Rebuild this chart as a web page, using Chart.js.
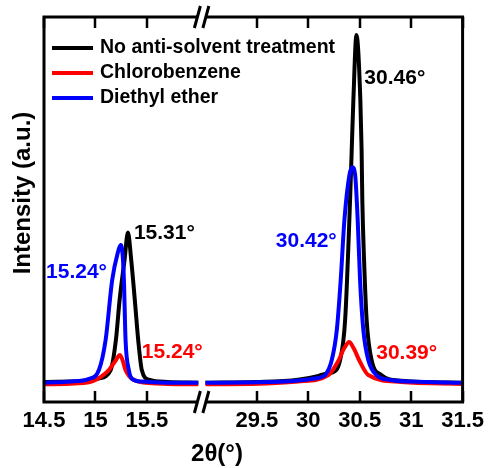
<!DOCTYPE html>
<html>
<head>
<meta charset="utf-8">
<script src="https://cdn.jsdelivr.net/npm/chart.js@4.4.1/dist/chart.umd.min.js"></script>
<style>
  html, body { margin: 0; padding: 0; background: #fff; }
  #wrap { width: 490px; height: 468px; position: relative; }
</style>
</head>
<body>
<div id="wrap"><canvas id="xrdChart"></canvas></div>
<script>
// 2theta values (deg) and normalised intensity
var noTreatX = [14.5, 14.9, 15.03, 15.148, 15.199, 15.235, 15.283, 15.316, 15.348, 15.383, 15.416, 15.451, 15.52, 15.7, 16.0,
                29.0, 29.5, 29.9, 30.1, 30.16, 30.225, 30.309, 30.358, 30.406, 30.422, 30.438, 30.468, 30.506, 30.518, 30.525, 30.542, 30.567, 30.615, 30.709, 30.9, 31.5];
var noTreatY = [0.052, 0.055, 0.061, 0.083, 0.161, 0.265, 0.369, 0.44, 0.369, 0.265, 0.161, 0.083, 0.058, 0.052, 0.05,
                0.05, 0.052, 0.058, 0.068, 0.073, 0.076, 0.109, 0.213, 0.525, 0.655, 0.784, 0.953, 0.784, 0.655, 0.525, 0.369, 0.213, 0.109, 0.07, 0.055, 0.05];

var chloroX = [14.5, 14.8, 14.98, 15.13, 15.19, 15.238, 15.265, 15.293, 15.42, 15.7, 16.0,
               29.0, 29.6, 29.9, 30.196, 30.286, 30.35, 30.397, 30.44, 30.503, 30.583, 30.9, 31.5];
var chloroY = [0.046, 0.048, 0.055, 0.083, 0.105, 0.122, 0.108, 0.083, 0.053, 0.047, 0.046,
               0.046, 0.048, 0.053, 0.07, 0.104, 0.14, 0.156, 0.14, 0.104, 0.07, 0.052, 0.047];

var etherX = [14.5, 14.8, 14.937, 15.034, 15.099, 15.163, 15.215, 15.248, 15.265, 15.277, 15.293, 15.325, 15.357, 15.45, 15.7, 16.0,
              29.0, 29.5, 29.9, 30.1, 30.164, 30.228, 30.277, 30.315, 30.351, 30.4, 30.428, 30.455, 30.48, 30.503, 30.535, 30.583, 30.663, 30.8, 31.0, 31.5];
var etherY = [0.05, 0.054, 0.06, 0.083, 0.161, 0.317, 0.385, 0.408, 0.38, 0.317, 0.161, 0.083, 0.06, 0.053, 0.05, 0.05,
              0.05, 0.051, 0.056, 0.063, 0.07, 0.109, 0.187, 0.317, 0.473, 0.59, 0.61, 0.59, 0.473, 0.317, 0.187, 0.109, 0.07, 0.057, 0.053, 0.05];

var seriesNames = ['No anti-solvent treatment', 'Chlorobenzene', 'Diethyl ether'];
var leftTicks = [14.5, 15, 15.5];
var rightTicks = [29.5, 30, 30.5, 31, 31.5];

// peak labels: text, 2theta, intensity (left edge / vertical middle of text)
var peakLabels = [
  ['30.46°', 30.545, 0.842, 0],
  ['15.31°', 15.374, 0.439, 0],
  ['15.24°', 14.52, 0.338, 2],
  ['15.24°', 15.451, 0.13, 1],
  ['30.42°', 29.684, 0.418, 2],
  ['30.39°', 30.66, 0.127, 1]
];

var colors = ['#000000', '#ff0000', '#0000ff'];
var FONT = '"Liberation Sans", Arial, Helvetica, sans-serif';

// broken axis: 14.5-16 then 29-31.5, joined with a small gap
var GAP = 0.07;
function toAxis(t) { return t < 20 ? t : t - 29 + 16 + GAP; }
function fromAxis(v) { return v <= 16 + GAP / 2 ? v : v + 29 - 16 - GAP; }

function buildSeries(xs, ys) {
  var pts = [];
  for (var i = 0; i < xs.length; i++) {
    if (i > 0 && xs[i - 1] < 20 && xs[i] >= 20) pts.push({x: 16 + GAP / 2, y: null});
    pts.push({x: toAxis(xs[i]), y: ys[i]});
  }
  return pts;
}

var decor = {
  id: 'decor',
  afterDatasetsDraw: function(chart) {
    var ctx = chart.ctx, a = chart.chartArea;
    var xs = chart.scales.x, ys = chart.scales.y;
    ctx.save();
    ctx.strokeStyle = '#000';
    ctx.lineCap = 'butt';

    // frame
    ctx.lineWidth = 3;
    ctx.strokeRect(a.left, a.top, a.right - a.left, a.bottom - a.top);

    // inward ticks top and bottom
    ctx.lineWidth = 2.5;
    leftTicks.concat(rightTicks).forEach(function(t) {
      var px = Math.round(xs.getPixelForValue(toAxis(t)));
      ctx.beginPath();
      ctx.moveTo(px, a.bottom); ctx.lineTo(px, a.bottom - 11);
      ctx.moveTo(px, a.top); ctx.lineTo(px, a.top + 11);
      ctx.stroke();
    });

    // break marks
    var bx = xs.getPixelForValue(16 + GAP / 2);
    [a.top, a.bottom].forEach(function(by) {
      ctx.fillStyle = '#fff';
      ctx.fillRect(bx - 4, by - 3, 8, 6);
      ctx.lineWidth = 3;
      ctx.beginPath();
      ctx.moveTo(bx - 7.5, by + 11); ctx.lineTo(bx - 1.5, by - 11);
      ctx.moveTo(bx + 1, by + 11); ctx.lineTo(bx + 7, by - 11);
      ctx.stroke();
    });

    // legend inside plot
    ctx.font = 'bold 19.5px ' + FONT;
    ctx.textBaseline = 'middle';
    ctx.textAlign = 'left';
    seriesNames.forEach(function(name, i) {
      var y = a.top + 31 + i * 25;
      ctx.strokeStyle = colors[i];
      ctx.lineWidth = 4;
      ctx.beginPath();
      ctx.moveTo(a.left + 8, y); ctx.lineTo(a.left + 49, y);
      ctx.stroke();
      ctx.fillStyle = '#000';
      ctx.fillText(name, a.left + 56, y);
    });

    // peak labels
    ctx.font = 'bold 21px ' + FONT;
    peakLabels.forEach(function(p) {
      ctx.fillStyle = colors[p[3]];
      ctx.fillText(p[0], xs.getPixelForValue(toAxis(p[1])), ys.getPixelForValue(p[2]));
    });

    // axis titles
    ctx.fillStyle = '#000';
    ctx.font = 'bold 24px ' + FONT;
    ctx.textAlign = 'center';
    ctx.fillText('2θ(°)', 217, 454);
    ctx.save();
    ctx.translate(23, 193);
    ctx.rotate(-Math.PI / 2);
    ctx.fillText('Intensity (a.u.)', 0, 0);
    ctx.restore();

    ctx.restore();
  }
};

new Chart(document.getElementById('xrdChart'), {
  type: 'line',
  data: {
    datasets: [
      { label: seriesNames[0], data: buildSeries(noTreatX, noTreatY), borderColor: colors[0], order: 3 },
      { label: seriesNames[1], data: buildSeries(chloroX, chloroY), borderColor: colors[1], order: 2 },
      { label: seriesNames[2], data: buildSeries(etherX, etherY), borderColor: colors[2], order: 1 }
    ]
  },
  options: {
    responsive: true,
    maintainAspectRatio: false,
    animation: false,
    spanGaps: false,
    datasets: {
      line: {
        borderWidth: 4,
        pointRadius: 0,
        fill: false,
        cubicInterpolationMode: 'monotone',
        borderCapStyle: 'butt',
        borderJoinStyle: 'round'
      }
    },
    layout: { padding: { left: 44, right: 25, top: 17, bottom: 0 } },
    plugins: {
      legend: { display: false },
      tooltip: { enabled: false }
    },
    scales: {
      x: {
        type: 'linear',
        min: 14.5,
        max: 18.5 + GAP,
        grid: { display: false, drawTicks: false },
        border: { display: false },
        afterBuildTicks: function(scale) {
          scale.ticks = leftTicks.concat(rightTicks).map(function(t) { return {value: toAxis(t)}; });
        },
        afterFit: function(scale) { scale.height = 66; },
        ticks: {
          autoSkip: false,
          maxRotation: 0,
          minRotation: 0,
          padding: 6,
          color: '#000',
          font: { family: FONT, size: 22, weight: 'bold' },
          callback: function(v) { return String(Math.round(fromAxis(v) * 10) / 10); }
        }
      },
      y: {
        display: false,
        min: 0,
        max: 1
      }
    }
  },
  plugins: [decor]
});
</script>
</body>
</html>
